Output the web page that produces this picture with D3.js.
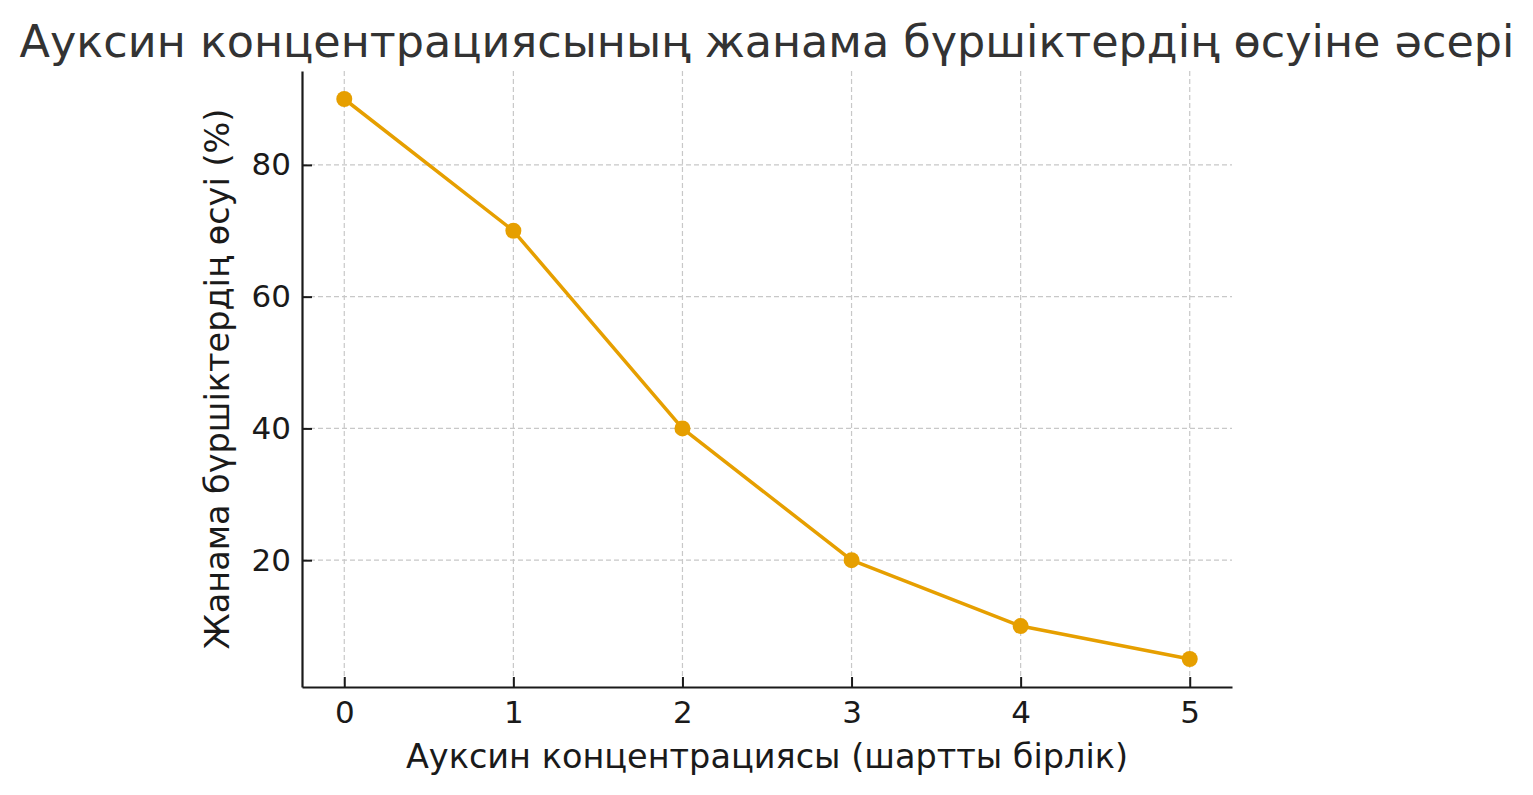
<!DOCTYPE html>
<html>
<head>
<meta charset="utf-8">
<script src="https://cdn.jsdelivr.net/npm/d3@7"></script>
<style>
  html, body { margin: 0; padding: 0; background: #fff; }
  svg { display: block; font-family: "DejaVu Sans", sans-serif; }
</style>
</head>
<body>
<svg id="chart" width="1533" height="795"></svg>
<script>
// data
const concentration = [0, 1, 2, 3, 4, 5];
const growth = [90, 70, 40, 20, 10, 5];
const xTickValues = [0, 1, 2, 3, 4, 5];
const yTickValues = [20, 40, 60, 80];

const titleText = 'Ауксин концентрациясының жанама бүршіктердің өсуіне әсері';
const xLabelText = 'Ауксин концентрациясы (шартты бірлік)';
const yLabelText = 'Жанама бүршіктердің өсуі (%)';

const width = 1533;
const height = 795;
const margin = { top: 71, right: 301, bottom: 108, left: 302 };
const LINE_COLOR = '#E69F00';
const AXIS_COLOR = '#1a1a1a';

const svg = d3.select('#chart');

// matplotlib-like 5% padding around the data
const xPad = (d3.max(concentration) - d3.min(concentration)) * 0.05;
const yPad = (d3.max(growth) - d3.min(growth)) * 0.05;

const xScale = d3.scaleLinear()
    .domain([d3.min(concentration) - xPad, d3.max(concentration) + xPad])
    .range([margin.left, width - margin.right]);
const yScale = d3.scaleLinear()
    .domain([d3.min(growth) - yPad, d3.max(growth) + yPad])
    .range([height - margin.bottom, margin.top]);

const plotTop = margin.top;
const plotBottom = height - margin.bottom;
const plotLeft = margin.left;
const plotRight = width - margin.right;

// grid
const grid = svg.append('g')
    .attr('stroke', '#c8c8c8')
    .attr('stroke-width', 1.2)
    .attr('stroke-dasharray', '5,3');
grid.selectAll('.gx')
    .data(xTickValues)
    .join('line')
    .attr('x1', (d) => xScale(d))
    .attr('x2', (d) => xScale(d))
    .attr('y1', plotTop)
    .attr('y2', plotBottom);
grid.selectAll('.gy')
    .data(yTickValues)
    .join('line')
    .attr('x1', plotLeft)
    .attr('x2', plotRight)
    .attr('y1', (d) => yScale(d))
    .attr('y2', (d) => yScale(d));

// axes with inward ticks
const xAxis = d3.axisBottom(xScale)
    .tickValues(xTickValues)
    .tickFormat(d3.format('d'))
    .tickSizeInner(-10)
    .tickSizeOuter(0)
    .tickPadding(14);
const yAxis = d3.axisLeft(yScale)
    .tickValues(yTickValues)
    .tickFormat(d3.format('d'))
    .tickSizeInner(-10)
    .tickSizeOuter(0)
    .tickPadding(11);

const gx = svg.append('g')
    .attr('transform', `translate(0,${plotBottom})`)
    .call(xAxis);
const gy = svg.append('g')
    .attr('transform', `translate(${plotLeft},0)`)
    .call(yAxis);

[gx, gy].forEach((g) => {
    g.select('.domain').attr('stroke', AXIS_COLOR).attr('stroke-width', 2.2);
    g.selectAll('.tick line').attr('stroke', AXIS_COLOR).attr('stroke-width', 2);
    g.selectAll('.tick text')
        .attr('fill', AXIS_COLOR)
        .style('font-family', '"DejaVu Sans", sans-serif')
        .style('font-size', '31px');
});
gx.selectAll('.tick text').attr('dy', '0.71em');

// line + markers
const line = d3.line()
    .x((d, i) => xScale(concentration[i]))
    .y((d) => yScale(d));

svg.append('path')
    .datum(growth)
    .attr('d', line)
    .attr('fill', 'none')
    .attr('stroke', LINE_COLOR)
    .attr('stroke-width', 3.5)
    .attr('stroke-linejoin', 'round');

svg.append('g')
    .selectAll('circle')
    .data(growth)
    .join('circle')
    .attr('cx', (d, i) => xScale(concentration[i]))
    .attr('cy', (d) => yScale(d))
    .attr('r', 8)
    .attr('fill', LINE_COLOR);

// texts
svg.append('text')
    .attr('x', (plotLeft + plotRight) / 2)
    .attr('y', 57)
    .attr('text-anchor', 'middle')
    .attr('fill', '#333333')
    .style('font-size', '44.5px')
    .text(titleText);

svg.append('text')
    .attr('x', (plotLeft + plotRight) / 2)
    .attr('y', 768)
    .attr('text-anchor', 'middle')
    .attr('fill', AXIS_COLOR)
    .style('font-size', '33.5px')
    .text(xLabelText);

svg.append('text')
    .attr('transform', `translate(229,${(plotTop + plotBottom) / 2}) rotate(-90)`)
    .attr('text-anchor', 'middle')
    .attr('fill', AXIS_COLOR)
    .style('font-size', '33.5px')
    .text(yLabelText);
</script>
</body>
</html>
